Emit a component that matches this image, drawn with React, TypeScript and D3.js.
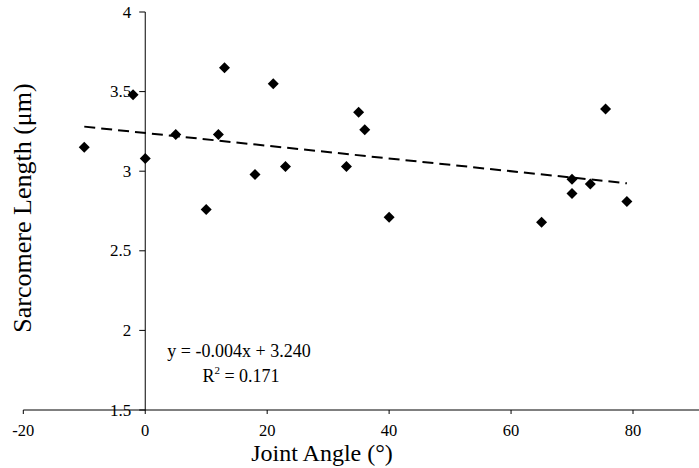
import React from "react";
import * as d3 from "d3";

const angles = [-10, -2, 0, 5, 10, 12, 13, 18, 21, 23, 33, 35, 36, 40, 65, 70, 70, 73, 75.5, 79];
const lengths = [3.15, 3.48, 3.08, 3.23, 2.76, 3.23, 3.65, 2.98, 3.55, 3.03, 3.03, 3.37, 3.26, 2.71, 2.68, 2.95, 2.86, 2.92, 3.39, 2.81];
const xTicks = [-20, 0, 20, 40, 60, 80];
const yTicks = [1.5, 2, 2.5, 3, 3.5, 4];
const slope = -0.004;
const intercept = 3.24;
const trendRange = [-10, 79];

const W = 699;
const H = 468;
const FONT = "'Liberation Serif', 'Times New Roman', serif";

export default function App() {
  const x = d3.scaleLinear().domain([-20, 80]).range([23.3, 633]);
  const y = d3.scaleLinear().domain([1.5, 4]).range([410, 12]);
  const x0 = x(0);
  const yBase = y(1.5);
  const line = d3
    .line<number>()
    .x((d) => x(d))
    .y((d) => y(slope * d + intercept));
  const r = 5.5;
  const diamond = `M0,${-r}L${r},0L0,${r}L${-r},0Z`;

  return (
    <svg width={W} height={H} style={{ display: "block", position: "absolute", left: 0, top: 0 }}>
      <rect width={W} height={H} fill="#fff" />
      {/* x axis */}
      <line x1={x(-20)} x2={W} y1={yBase} y2={yBase} stroke="#000" strokeWidth={1} />
      {xTicks.map((t) => (
        <g key={t}>
          <line x1={x(t)} x2={x(t)} y1={yBase} y2={yBase + 4} stroke="#000" />
          <text x={x(t)} y={430} textAnchor="middle" dominantBaseline="central" fontFamily={FONT} fontSize={16.5}>
            {t}
          </text>
        </g>
      ))}
      {/* y axis */}
      <line x1={x0} x2={x0} y1={y(4)} y2={yBase} stroke="#000" strokeWidth={1} />
      {yTicks.map((t) => (
        <g key={t}>
          <line x1={x0 - 6} x2={x0} y1={y(t)} y2={y(t)} stroke="#000" />
          <text x={x0 - 14} y={y(t)} textAnchor="end" dominantBaseline="central" fontFamily={FONT} fontSize={17}>
            {t}
          </text>
        </g>
      ))}
      {/* trend line */}
      <path d={line(trendRange) || ""} fill="none" stroke="#000" strokeWidth={2} strokeDasharray="11,6" />
      {/* points */}
      {angles.map((a, i) => (
        <path key={i} d={diamond} transform={`translate(${x(a)},${y(lengths[i])})`} fill="#000" />
      ))}
      {/* equation */}
      <text x={239} y={351} textAnchor="middle" dominantBaseline="central" fontFamily={FONT} fontSize={18}>
        y = -0.004x + 3.240
      </text>
      <text x={241} y={376} textAnchor="middle" dominantBaseline="central" fontFamily={FONT} fontSize={18}>
        R<tspan baselineShift="super" fontSize={11}>2</tspan> = 0.171
      </text>
      {/* axis titles */}
      <text x={322} y={461} textAnchor="middle" fontFamily={FONT} fontSize={24}>
        Joint Angle (°)
      </text>
      <text
        transform={`translate(22,${208}) rotate(-90)`}
        textAnchor="middle"
        dominantBaseline="central"
        fontFamily={FONT}
        fontSize={26}
      >
        Sarcomere Length (μm)
      </text>
    </svg>
  );
}
